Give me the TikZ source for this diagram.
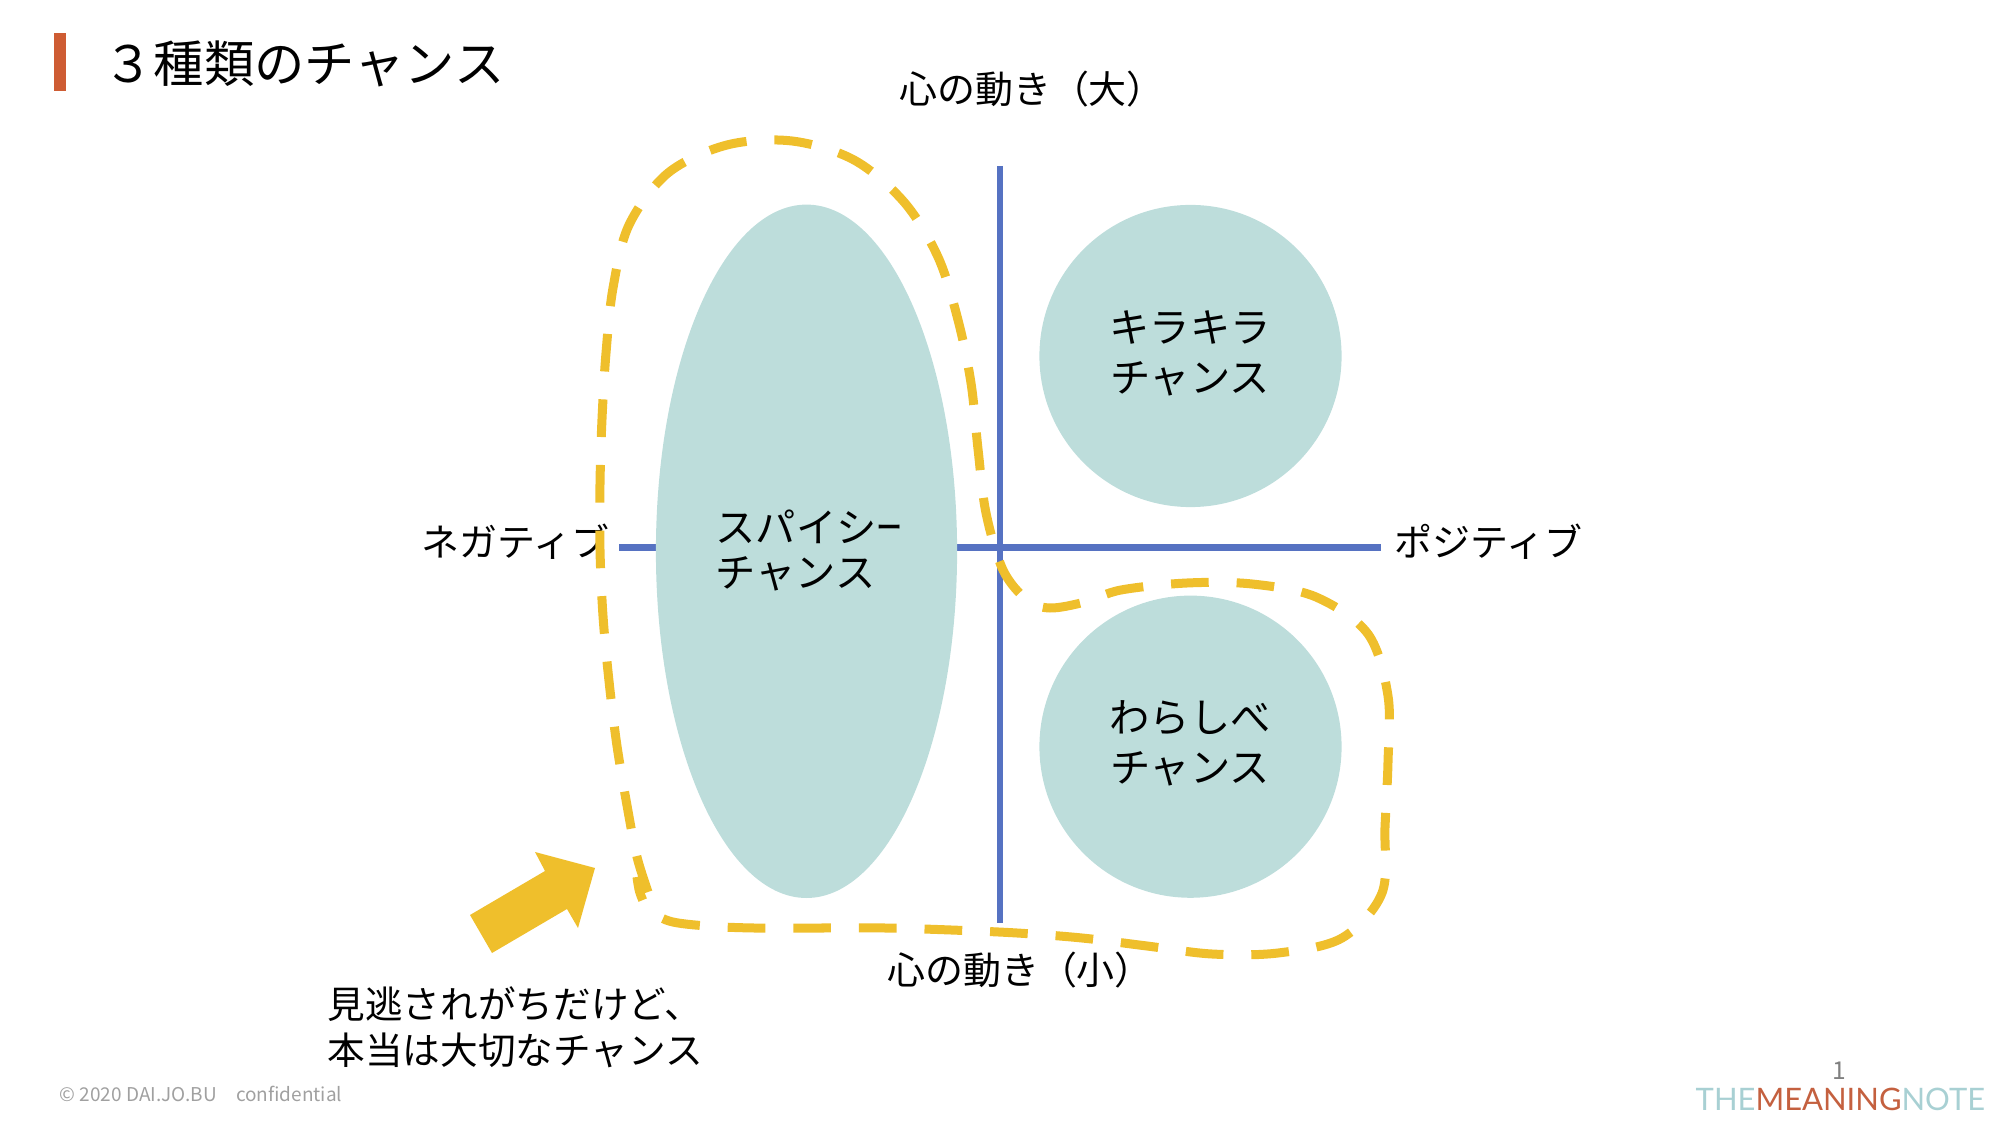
\documentclass[tikz,border=0pt]{standalone}
\usepackage{fontspec}
\setmainfont{Noto Sans CJK JP}
\newfontfamily\logofont{Lato}
\usepackage{tikz}
\usetikzlibrary{
    positioning,
    shapes.geometric
}
\definecolor{MainBlue}{RGB}{86,114,194}
\definecolor{AccentGold}{RGB}{239,191,44}
\definecolor{AccentRust}{RGB}{206,92,51}
\definecolor{BubbleTeal}{RGB}{189,221,219}
\definecolor{LogoTeal}{RGB}{168,208,211}
\definecolor{LogoRust}{RGB}{196,96,63}
\definecolor{FootGray}{RGB}{160,160,160}
\tikzset{
    bubble/.style={fill=BubbleTeal, inner sep=0pt},
    chancetext/.style={inner sep=0pt, align=center, font=\fontsize{11.45pt}{14.2pt}\selectfont},
    axislabel/.style={inner sep=0pt, font=\fontsize{10.8pt}{14pt}\selectfont},
    axisline/.style={MainBlue, line width=1.75pt},
}
\begin{document}
\begin{tikzpicture}[x=0.01cm, y=-0.01cm]
        \useasboundingbox (0,0) rectangle (2000,1125);

        % Title
        \fill[AccentRust] (54,33) rectangle (66,91);
        \node[anchor=west, inner sep=0pt, font=\fontsize{14.3pt}{17pt}\selectfont] (title) at (103,64) {３種類のチャンス};

        % Axes
        \coordinate (axisW) at (619,547.5);
        \coordinate (axisE) at (1381,547.5);
        \coordinate (axisN) at (1000,166);
        \coordinate (axisS) at (1000,923);
        \draw[axisline] (axisW) -- (axisE);
        \draw[axisline] (axisN) -- (axisS);

        % Bubbles
        \node[bubble, ellipse, minimum width=3.01cm, minimum height=6.93cm] (spicy) at (806.5,551.3) {};
        \node[bubble, circle, minimum size=3.02cm] (kira) at (1190.5,356) {};
        \node[bubble, circle, minimum size=3.02cm] (warashibe) at (1190.5,746.7) {};

        % Bubble texts
        \node[chancetext, anchor=west, align=left, font=\fontsize{11.45pt}{12.8pt}\selectfont] (spicyText) at (715,550.5) {スパイシ\scalebox{0.65}[1]{ー}\\チャンス};
        \node[chancetext] (kiraText) at (1190,353.7) {キラキラ\\チャンス};
        \node[chancetext] (warashibeText) at (1190,743.5) {わらしべ\\チャンス};

        % Axis labels
        \node[axislabel] (up) at (1032,89) {心の動き（大）};
        \node[axislabel] (down) at (1020,970) {心の動き（小）};
        \node[axislabel, anchor=west] (nega) at (421,542) {ネガティブ};
        \node[axislabel, anchor=west] (posi) at (1394,542) {ポジティブ};

        % Dashed outline
        \draw[AccentGold, line width=2.56pt, dash pattern=on 10.72pt off 7.94pt]
            plot[smooth, tension=0.55] coordinates {
            (648,892) (637,857) (628,811) (617,746) (609,681) (603,616) (600,550)
            (600,484) (602,419) (606,353) (613,288) (629,225) (668,173) (727,145)
            (792,141) (854,160) (904,202) (938,257) (958,320) (971,383) (978,449)
            (986,513) (1003,570) (1027,600) (1050,608) (1085,602) (1121,590) (1187,583) (1252,584) (1316,597)
            (1368,634) (1388,696) (1388,762) (1385,827) (1382,893) (1342,938) (1278,953)
            (1212,954) (1147,946) (1082,938) (1017,933) (951,930) (885,928) (820,928)
            (754,928) (707,926) (669,921) (648,908) (640,893) (637,877)
            };

        % Pointer arrow
        \fill[AccentGold] (535,852) -- (595,868) -- (578,928) -- (567,909) -- (492,953) -- (470,915) -- (545,871) -- cycle;
        \node[anchor=north west, inner sep=0pt, align=left, font=\fontsize{10.7pt}{13pt}\selectfont] (note) at (327,986) {見逃されがちだけど、\\本当は大切なチャンス};

        % Footer
        \node[anchor=west, inner sep=0pt, text=FootGray, font=\fontsize{5.4pt}{6pt}\selectfont] (foot) at (59,1094) {© 2020 DAI.JO.BU　confidential};
        \node[inner sep=0pt, text=gray, font=\fontsize{7pt}{8pt}\selectfont] (page) at (1839,1071) {1};
        \node[anchor=west, inner sep=0pt, font=\logofont\fontsize{8.8pt}{10pt}\selectfont] (logo) at (1695,1099) {\textcolor{LogoTeal}{THE}\textcolor{LogoRust}{MEANING}\textcolor{LogoTeal}{NOTE}};
\end{tikzpicture}
\end{document}
